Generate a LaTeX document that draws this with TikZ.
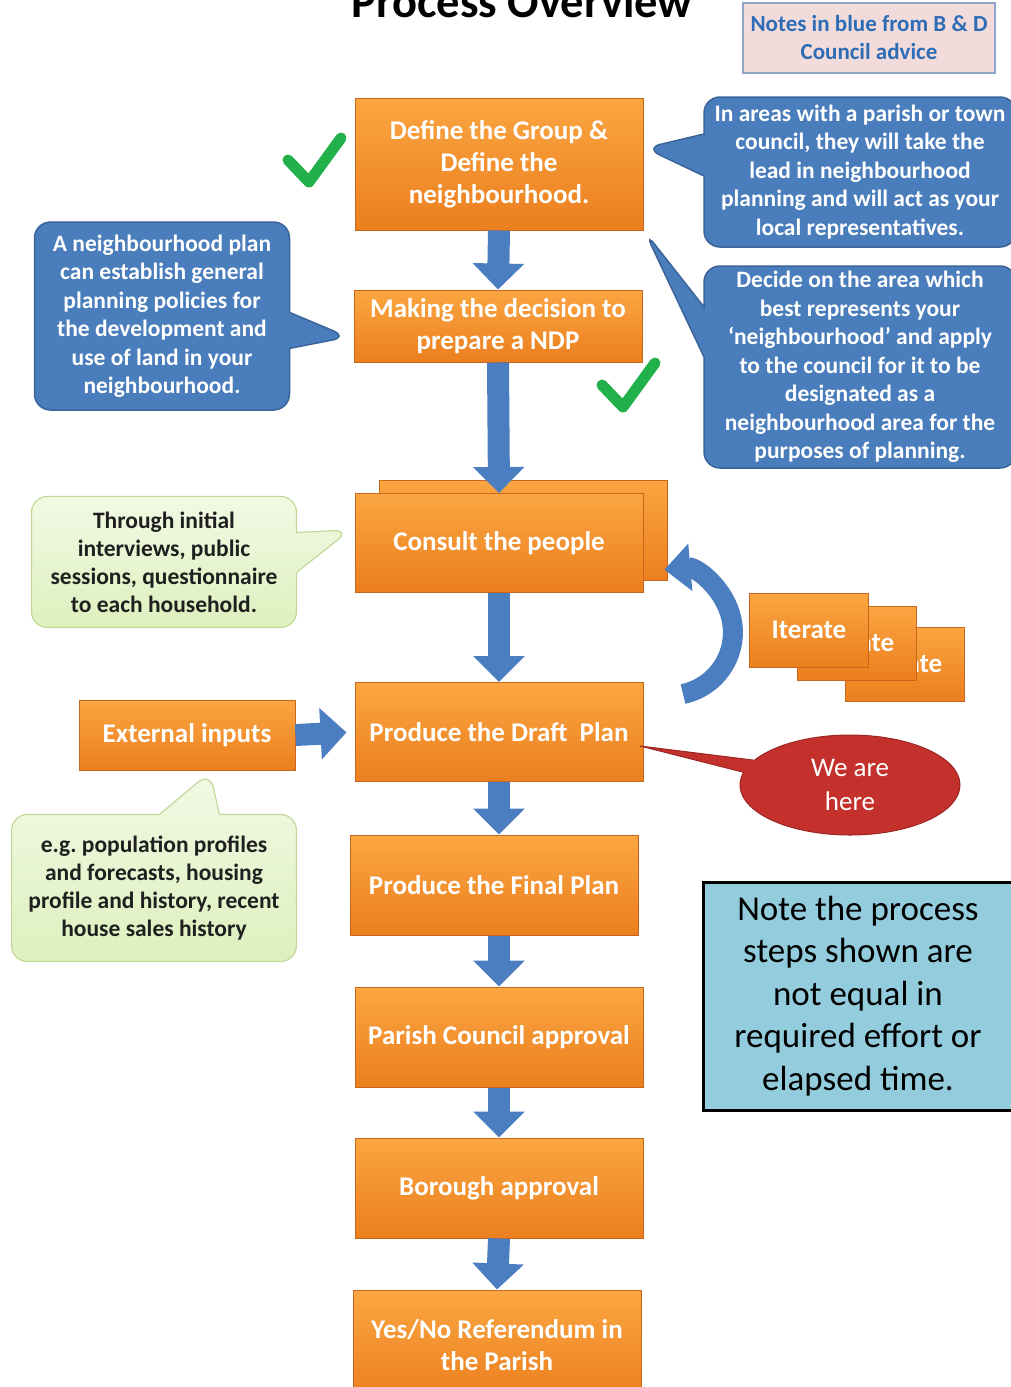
\documentclass[tikz,border=0pt]{standalone}
\usepackage{fontspec}
\setmainfont{Carlito}
\usetikzlibrary{shapes.callouts,arrows.meta}
\definecolor{oTop}{HTML}{FAA642}
\definecolor{oBot}{HTML}{EC7E1E}
\definecolor{oDraw}{HTML}{C8661C}
\definecolor{bFill}{HTML}{4A7DBB}
\definecolor{bDraw}{HTML}{3A649A}
\definecolor{aBlue}{HTML}{4A7EC0}
\definecolor{gTop}{HTML}{F2F9E4}
\definecolor{gBot}{HTML}{DDF0BE}
\definecolor{gDraw}{HTML}{C2D99A}
\definecolor{rFill}{HTML}{C4312C}
\definecolor{rDraw}{HTML}{9C2622}
\definecolor{noteBlue}{HTML}{93CDDD}
\definecolor{pinkFill}{HTML}{F2DCDB}
\definecolor{pinkDraw}{HTML}{8FA3C6}
\definecolor{noteText}{HTML}{2E6DB6}
\definecolor{checkGreen}{HTML}{22B04B}
\begin{document}
\begin{tikzpicture}[x=1pt,y=-1pt,
  obox/.style={draw=oDraw, line width=1pt, top color=oTop, bottom color=oBot,
    minimum width=288pt, inner sep=0pt, align=center, text=white,
    font=\fontsize{27}{32}\selectfont\bfseries},
  ibox/.style={obox, minimum width=119pt, minimum height=74pt},
  bcall/.style={rectangle callout, rounded corners=16pt, draw=bDraw, line width=1.5pt,
    fill=bFill, text=white, align=center, inner sep=0pt,
    font=\fontsize{23.5}{28.5}\selectfont\bfseries},
  gcall/.style={rectangle callout, rounded corners=16pt, draw=gDraw, line width=1.2pt,
    top color=gTop, bottom color=gBot, text=black!88, align=center, inner sep=0pt,
    font=\fontsize{23.5}{28}\selectfont\bfseries},
  barrow/.style={draw=aBlue, line width=22pt, -{Triangle[width=50pt,length=26pt]}},
  check/.style={draw=checkGreen, line width=11pt, line cap=round, line join=round}
]
\useasboundingbox (0,0) rectangle (1011,1387);

% title and note
\node[anchor=base, font=\fontsize{46.5}{46.5}\selectfont\bfseries] (title) at (522,17) {Process Overview};
\node[draw=pinkDraw, line width=1.5pt, fill=pinkFill, minimum width=252pt, minimum height=70pt,
  align=center, text=noteText, font=\fontsize{23}{28}\selectfont\bfseries] (notes) at (869,38)
  {Notes in blue from B \& D\\Council advice};

% main column
\node[obox, minimum height=132pt] (define) at (499,164) {Define the Group \&\\Define the\\neighbourhood.};
\node[obox, minimum height=72pt] (making) at (498,326) {Making the decision to\\prepare a NDP};
\node[obox, minimum height=100pt] (consultback) at (523,530) {};
\node[obox, minimum height=99pt] (consult) at (499,543) {Consult the people};
\node[obox, minimum height=99pt] (draft) at (499,732) {Produce the Draft\ \ Plan};
\node[obox, minimum height=100pt] (final) at (494,885) {Produce the Final Plan};
\node[obox, minimum height=100pt] (parish) at (499,1037) {Parish Council approval};
\node[obox, minimum height=100pt] (borough) at (499,1188) {Borough approval};
\node[obox, minimum height=110pt] (yesno) at (497,1345) {Yes/No Referendum in\\the Parish};

\node[obox, minimum width=216pt, minimum height=70pt] (ext) at (187,735) {External inputs};

% iterate stack
\node[ibox] (it3) at (905,664) {Iterate};
\node[ibox] (it2) at (857,643) {Iterate};
\node[ibox] (it1) at (809,630) {Iterate};

% block arrows
\draw[barrow] (define.south) -- (making.north);
\draw[barrow] (making.south) -- (consult.north);
\draw[barrow] (consult.south) -- (draft.north);
\draw[barrow] (draft.south) -- (final.north -| draft.south);
\draw[barrow] (final.south -| parish.north) -- (parish.north);
\draw[barrow] (parish.south) -- (borough.north);
\draw[barrow] (borough.south) -- (yesno.north);
\draw[barrow, shorten >=8pt] (ext.east) -- (draft.west);

% curved iterate arrow
\coordinate (arcstart) at (683,694);
\draw[barrow, line width=20pt, -{Triangle[width=46pt,length=26pt]}]
  (arcstart) arc[start angle=78, end angle=-95, radius=63];

% blue callouts
\node[bcall, minimum width=312pt, minimum height=150pt, callout pointer width=42pt,
  callout absolute pointer={(645,148)}] (c1) at (860,172)
  {In areas with a parish or town\\council, they will take the\\lead in neighbourhood\\planning and will act as your\\local representatives.};
\node[bcall, minimum width=312pt, minimum height=202pt, callout pointer width=50pt,
  callout absolute pointer={(645,232)}] (c2) at (860,367)
  {Decide on the area which\\best represents your\\‘neighbourhood’ and apply\\to the council for it to be\\designated as a\\neighbourhood area for the\\purposes of planning.};
\node[bcall, minimum width=255pt, minimum height=188pt, callout pointer width=36pt,
  callout absolute pointer={(348,337)}] (c3) at (162,316)
  {A neighbourhood plan\\can establish general\\planning policies for\\the development and\\use of land in your\\neighbourhood.};

% green callouts
\node[gcall, minimum width=265pt, minimum height=131pt, callout pointer width=40pt,
  callout absolute pointer={(350,530)}] (g1) at (164,562)
  {Through initial\\interviews, public\\sessions, questionnaire\\to each household.};
\node[gcall, minimum width=285pt, minimum height=147pt, callout pointer width=60pt,
  callout absolute pointer={(210,772)}] (g2) at (154,888)
  {e.g.\ population profiles\\and forecasts, housing\\profile and history, recent\\house sales history};

% we are here
\node[ellipse callout, draw=rDraw, line width=1pt, fill=rFill, minimum width=220pt, minimum height=100pt,
  callout pointer width=40pt, callout absolute pointer={(640,746)}, text=white, align=center,
  inner sep=0pt, font=\fontsize{27}{34}\selectfont] (here) at (850,785) {We are\\here};

% note box
\node[draw=black, line width=3pt, fill=noteBlue, minimum width=310pt, minimum height=228pt,
  align=center, font=\fontsize{35}{42.5}\selectfont] (note) at (858,996)
  {Note the process\\steps shown are\\not equal in\\required effort or\\elapsed time.};

% checkmarks
\draw[check] (288,160) -- (309,182) -- (341,138);
\draw[check] (602,385) -- (623,407) -- (655,363);
\end{tikzpicture}
\end{document}
